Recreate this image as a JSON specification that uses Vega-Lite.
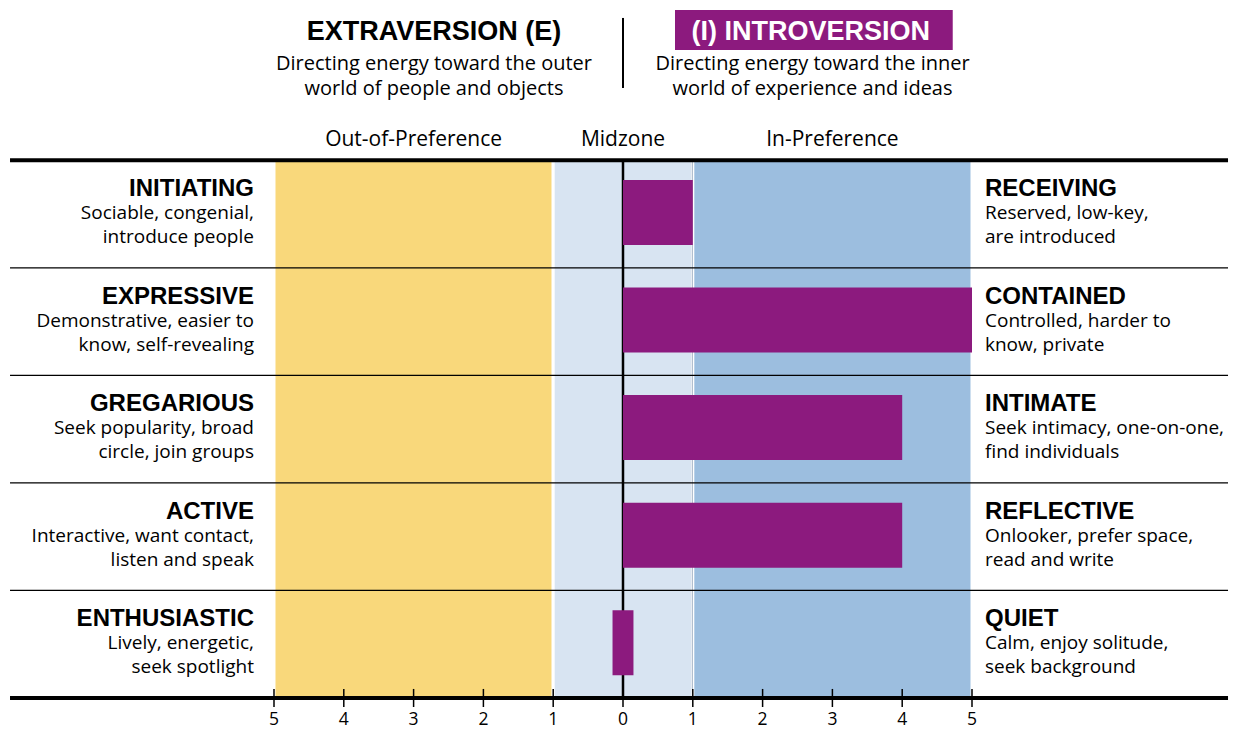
{
  "$schema": "https://vega.github.io/schema/vega-lite/v6.json",
  "width": 1233,
  "height": 731,
  "autosize": "none",
  "padding": 0,
  "background": "white",
  "config": {"view": {"stroke": null}, "axis": {"disable": true}},
  "datasets": {
    "rows": [
      {"row": 1, "left": "INITIATING", "leftDesc": "Sociable, congenial,\nintroduce people", "right": "RECEIVING", "rightDesc": "Reserved, low-key,\nare introduced", "from": 0, "to": 1},
      {"row": 2, "left": "EXPRESSIVE", "leftDesc": "Demonstrative, easier to\nknow, self-revealing", "right": "CONTAINED", "rightDesc": "Controlled, harder to\nknow, private", "from": 0, "to": 5},
      {"row": 3, "left": "GREGARIOUS", "leftDesc": "Seek popularity, broad\ncircle, join groups", "right": "INTIMATE", "rightDesc": "Seek intimacy, one-on-one,\nfind individuals", "from": 0, "to": 4},
      {"row": 4, "left": "ACTIVE", "leftDesc": "Interactive, want contact,\nlisten and speak", "right": "REFLECTIVE", "rightDesc": "Onlooker, prefer space,\nread and write", "from": 0, "to": 4},
      {"row": 5, "left": "ENTHUSIASTIC", "leftDesc": "Lively, energetic,\nseek spotlight", "right": "QUIET", "rightDesc": "Calm, enjoy solitude,\nseek background", "from": -0.15, "to": 0.15}
    ],
    "zones": [
      {"zone": "Out-of-Preference", "start": -5, "end": -1, "mid": -3},
      {"zone": "Midzone", "start": -1, "end": 1, "mid": 0},
      {"zone": "In-Preference", "start": 1, "end": 5, "mid": 3}
    ],
    "ticks": [
      {"t": -5, "lab": "5"}, {"t": -4, "lab": "4"}, {"t": -3, "lab": "3"}, {"t": -2, "lab": "2"}, {"t": -1, "lab": "1"},
      {"t": 0, "lab": "0"}, {"t": 1, "lab": "1"}, {"t": 2, "lab": "2"}, {"t": 3, "lab": "3"}, {"t": 4, "lab": "4"}, {"t": 5, "lab": "5"}
    ],
    "one": [{}]
  },
  "layer": [
    {
      "data": {"name": "zones"},
      "mark": {"type": "rect", "stroke": "white", "strokeWidth": 3},
      "encoding": {
        "x": {"field": "start", "type": "quantitative",
          "scale": {"domain": [-8.9255, 8.7393], "nice": false, "zero": false, "padding": 0}},
        "x2": {"field": "end"},
        "y": {"datum": 0.5, "type": "quantitative",
          "scale": {"domain": [-0.99, 5.807], "reverse": true, "nice": false, "zero": false, "padding": 0}},
        "y2": {"datum": 5.5},
        "color": {"field": "zone", "type": "nominal", "legend": null,
          "scale": {"domain": ["Out-of-Preference", "Midzone", "In-Preference"], "range": ["#f9d87b", "#d8e4f2", "#9cbedf"]}}
      }
    },
    {
      "data": {"name": "one"},
      "mark": {"type": "rule", "color": "#9fb0c4", "strokeWidth": 1},
      "encoding": {
        "x": {"datum": 0.993, "type": "quantitative"},
        "y": {"datum": 0.5, "type": "quantitative"},
        "y2": {"datum": 5.5}
      }
    },
    {
      "data": {"name": "one"},
      "mark": {"type": "rule", "color": "black", "strokeWidth": 2.5},
      "encoding": {
        "x": {"datum": 0, "type": "quantitative"},
        "y": {"datum": 0.5, "type": "quantitative"},
        "y2": {"datum": 5.5}
      }
    },
    {
      "data": {"name": "rows"},
      "mark": {"type": "bar", "color": "#8c1a7e", "size": 65, "yOffset": -1.5},
      "encoding": {
        "x": {"field": "from", "type": "quantitative"},
        "x2": {"field": "to"},
        "y": {"field": "row", "type": "quantitative"}
      }
    },
    {
      "data": {"name": "rows"},
      "mark": {"type": "rule", "color": "black", "strokeWidth": 1.3, "yOffset": 53.78},
      "encoding": {
        "x": {"datum": -8.782, "type": "quantitative"},
        "x2": {"datum": 8.668},
        "y": {"field": "row", "type": "quantitative"}
      }
    },
    {
      "data": {"name": "one"},
      "mark": {"type": "rule", "color": "black", "strokeWidth": 4},
      "encoding": {
        "x": {"datum": -8.782, "type": "quantitative"},
        "x2": {"datum": 8.668},
        "y": {"datum": 0.5, "type": "quantitative"}
      }
    },
    {
      "data": {"name": "one"},
      "mark": {"type": "rule", "color": "black", "strokeWidth": 4},
      "encoding": {
        "x": {"datum": -8.782, "type": "quantitative"},
        "x2": {"datum": 8.668},
        "y": {"datum": 5.5, "type": "quantitative"}
      }
    },
    {
      "data": {"name": "ticks"},
      "mark": {"type": "rule", "color": "black", "strokeWidth": 1.5},
      "encoding": {
        "x": {"field": "t", "type": "quantitative"},
        "y": {"datum": 5.416, "type": "quantitative"},
        "y2": {"datum": 5.584}
      }
    },
    {
      "data": {"name": "ticks"},
      "mark": {"type": "text", "align": "center", "baseline": "alphabetic", "dy": 27, "font": "Open Sans", "fontSize": 17.5, "color": "black"},
      "encoding": {
        "x": {"field": "t", "type": "quantitative"},
        "y": {"datum": 5.5, "type": "quantitative"},
        "text": {"field": "lab"}
      }
    },
    {
      "data": {"name": "rows"},
      "mark": {"type": "text", "align": "right", "baseline": "alphabetic", "dy": -18, "font": "Liberation Sans", "fontWeight": "bold", "fontSize": 24, "color": "black"},
      "encoding": {
        "x": {"datum": -5.287, "type": "quantitative"},
        "y": {"field": "row", "type": "quantitative"},
        "text": {"field": "left"}
      }
    },
    {
      "data": {"name": "rows"},
      "mark": {"type": "text", "align": "right", "baseline": "alphabetic", "dy": 5, "lineBreak": "\n", "lineHeight": 24, "font": "Open Sans", "fontSize": 19, "color": "black"},
      "encoding": {
        "x": {"datum": -5.287, "type": "quantitative"},
        "y": {"field": "row", "type": "quantitative"},
        "text": {"field": "leftDesc"}
      }
    },
    {
      "data": {"name": "rows"},
      "mark": {"type": "text", "align": "left", "baseline": "alphabetic", "dy": -18, "font": "Liberation Sans", "fontWeight": "bold", "fontSize": 24, "color": "black"},
      "encoding": {
        "x": {"datum": 5.186, "type": "quantitative"},
        "y": {"field": "row", "type": "quantitative"},
        "text": {"field": "right"}
      }
    },
    {
      "data": {"name": "rows"},
      "mark": {"type": "text", "align": "left", "baseline": "alphabetic", "dy": 5, "lineBreak": "\n", "lineHeight": 24, "font": "Open Sans", "fontSize": 19, "color": "black"},
      "encoding": {
        "x": {"datum": 5.186, "type": "quantitative"},
        "y": {"field": "row", "type": "quantitative"},
        "text": {"field": "rightDesc"}
      }
    },
    {
      "data": {"name": "zones"},
      "mark": {"type": "text", "align": "center", "baseline": "alphabetic", "dy": -14, "font": "Open Sans", "fontSize": 21, "color": "black"},
      "encoding": {
        "x": {"field": "mid", "type": "quantitative"},
        "y": {"datum": 0.5, "type": "quantitative"},
        "text": {"field": "zone"}
      }
    },
    {
      "data": {"name": "one"},
      "mark": {"type": "rect", "color": "#8c1a7e"},
      "encoding": {
        "x": {"datum": 0.745, "type": "quantitative"},
        "x2": {"datum": 4.724},
        "y": {"datum": -0.897, "type": "quantitative"},
        "y2": {"datum": -0.525}
      }
    },
    {
      "data": {"name": "one"},
      "mark": {"type": "rule", "color": "black", "strokeWidth": 2},
      "encoding": {
        "x": {"datum": 0, "type": "quantitative"},
        "y": {"datum": -0.823, "type": "quantitative"},
        "y2": {"datum": -0.172}
      }
    },
    {
      "data": {"name": "one"},
      "mark": {"type": "text", "text": "EXTRAVERSION (E)", "align": "center", "baseline": "alphabetic", "font": "Liberation Sans", "fontWeight": "bold", "fontSize": 27, "color": "black"},
      "encoding": {
        "x": {"datum": -2.708, "type": "quantitative"},
        "y": {"datum": -0.618, "type": "quantitative"}
      }
    },
    {
      "data": {"name": "one"},
      "mark": {"type": "text", "text": "(I) INTROVERSION", "align": "center", "baseline": "alphabetic", "font": "Liberation Sans", "fontWeight": "bold", "fontSize": 27, "color": "white"},
      "encoding": {
        "x": {"datum": 2.69, "type": "quantitative"},
        "y": {"datum": -0.618, "type": "quantitative"}
      }
    },
    {
      "data": {"name": "one"},
      "mark": {"type": "text", "text": "Directing energy toward the outer\nworld of people and objects", "lineBreak": "\n", "lineHeight": 25, "align": "center", "baseline": "alphabetic", "font": "Open Sans", "fontSize": 20, "color": "black"},
      "encoding": {
        "x": {"datum": -2.708, "type": "quantitative"},
        "y": {"datum": -0.34, "type": "quantitative"}
      }
    },
    {
      "data": {"name": "one"},
      "mark": {"type": "text", "text": "Directing energy toward the inner\nworld of experience and ideas", "lineBreak": "\n", "lineHeight": 25, "align": "center", "baseline": "alphabetic", "font": "Open Sans", "fontSize": 20, "color": "black"},
      "encoding": {
        "x": {"datum": 2.715, "type": "quantitative"},
        "y": {"datum": -0.34, "type": "quantitative"}
      }
    }
  ]
}
